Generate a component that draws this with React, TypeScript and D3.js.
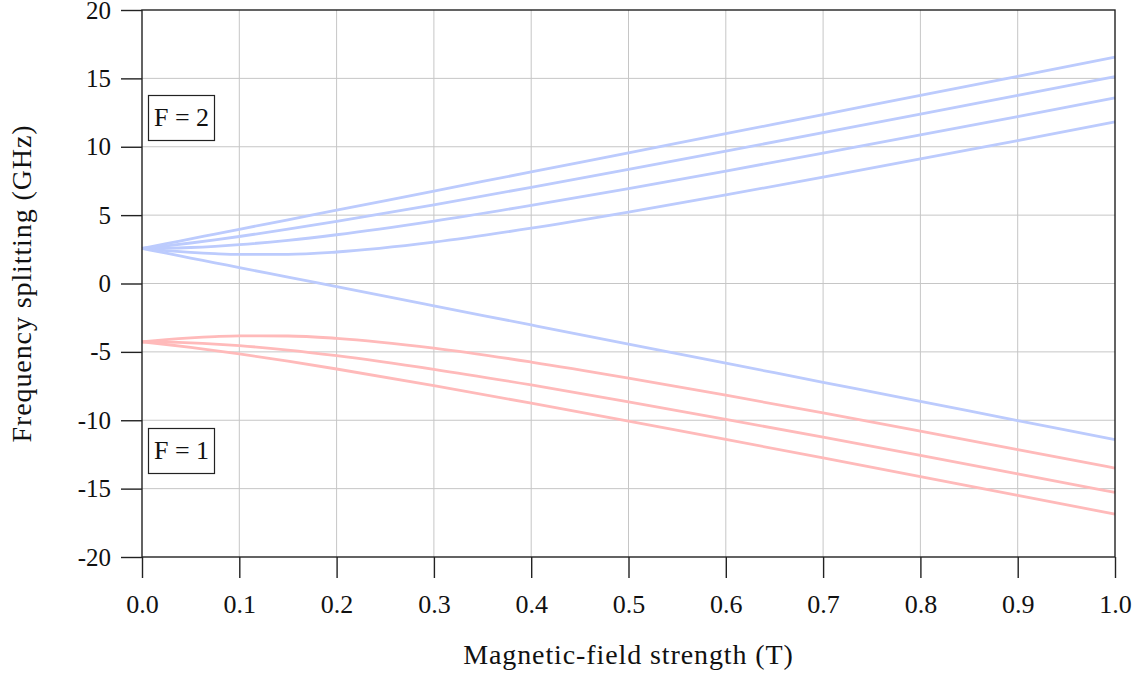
import React, { useRef, useEffect } from "react";
import * as d3 from "d3";

const fieldT = [0, 0.025, 0.05, 0.075, 0.1, 0.15, 0.2, 0.3, 0.4, 0.5, 0.6, 0.7, 0.8, 0.9, 1.0];

// F = 2 levels (GHz)
const f2Top = [2.563, 2.913, 3.262, 3.612, 3.962, 4.661, 5.36, 6.759, 8.157, 9.556, 10.954, 12.353, 13.751, 15.15, 16.548];
const f2Second = [2.563, 2.751, 2.961, 3.191, 3.437, 3.968, 4.538, 5.753, 7.03, 8.342, 9.677, 11.027, 12.388, 13.756, 15.129];
const f2Third = [2.563, 2.581, 2.634, 2.721, 2.839, 3.158, 3.565, 4.563, 5.71, 6.941, 8.221, 9.533, 10.865, 12.212, 13.569];
const f2Fourth = [2.563, 2.402, 2.273, 2.178, 2.123, 2.133, 2.304, 3.021, 4.044, 5.221, 6.477, 7.779, 9.108, 10.455, 11.814];
const f2Down = [2.563, 2.213, 1.864, 1.514, 1.165, 0.465, -0.234, -1.632, -3.031, -4.429, -5.827, -7.226, -8.624, -10.023, -11.421];

// F = 1 levels (GHz)
const f1Upper = [-4.272, -4.11, -3.98, -3.885, -3.828, -3.838, -4.007, -4.721, -5.742, -6.915, -8.169, -9.468, -10.795, -12.139, -13.495];
const f1Middle = [-4.272, -4.29, -4.343, -4.43, -4.548, -4.866, -5.274, -6.272, -7.419, -8.649, -9.93, -11.241, -12.574, -13.92, -15.277];
const f1Lower = [-4.272, -4.46, -4.671, -4.902, -5.149, -5.681, -6.252, -7.47, -8.75, -10.065, -11.403, -12.756, -14.119, -15.489, -16.865];

const xTicks = [0, 0.1, 0.2, 0.3, 0.4, 0.5, 0.6, 0.7, 0.8, 0.9, 1.0];
const yTicks = [-20, -15, -10, -5, 0, 5, 10, 15, 20];

const blue = "#bccbfd";
const pink = "#ffbaba";

const App = () => {
  const svgRef = useRef<SVGSVGElement>(null);

  useEffect(() => {
    const width = 1142;
    const height = 677;
    const margin = { top: 10, right: 27, bottom: 120, left: 142 };
    const w = width - margin.left - margin.right;
    const h = height - margin.top - margin.bottom;
    const font = "'Liberation Serif', 'DejaVu Serif', serif";

    const svg = d3.select(svgRef.current);
    svg.selectAll("*").remove();

    const g = svg.append("g").attr("transform", `translate(${margin.left},${margin.top})`);

    const x = d3.scaleLinear().domain([0, 1]).range([0, w]);
    const y = d3.scaleLinear().domain([-20, 20]).range([h, 0]);

    // grid
    g.append("g")
      .selectAll("line")
      .data(xTicks.slice(1, -1))
      .enter()
      .append("line")
      .attr("x1", (d) => x(d))
      .attr("x2", (d) => x(d))
      .attr("y1", 0)
      .attr("y2", h)
      .attr("stroke", "#c6c6c6")
      .attr("stroke-width", 1);
    g.append("g")
      .selectAll("line")
      .data(yTicks.slice(1, -1))
      .enter()
      .append("line")
      .attr("x1", 0)
      .attr("x2", w)
      .attr("y1", (d) => y(d))
      .attr("y2", (d) => y(d))
      .attr("stroke", "#c6c6c6")
      .attr("stroke-width", 1);

    // curves
    const lineGen = d3
      .line<number>()
      .x((d, i) => x(fieldT[i]))
      .y((d) => y(d))
      .curve(d3.curveMonotoneX);

    const series = [
      { v: f2Top, c: blue },
      { v: f2Second, c: blue },
      { v: f2Third, c: blue },
      { v: f2Fourth, c: blue },
      { v: f2Down, c: blue },
      { v: f1Upper, c: pink },
      { v: f1Middle, c: pink },
      { v: f1Lower, c: pink },
    ];
    g.append("g")
      .selectAll("path")
      .data(series)
      .enter()
      .append("path")
      .attr("d", (d) => lineGen(d.v))
      .attr("fill", "none")
      .attr("stroke", (d) => d.c)
      .attr("stroke-width", 2.8);

    // frame
    g.append("rect")
      .attr("width", w)
      .attr("height", h)
      .attr("fill", "none")
      .attr("stroke", "#222")
      .attr("stroke-width", 1.4);

    // axes
    const yAxis = g
      .append("g")
      .call(d3.axisLeft(y).tickValues(yTicks).tickSize(21).tickPadding(10).tickFormat((d) => String(d)));
    yAxis.select(".domain").remove();
    yAxis.selectAll("line").attr("stroke", "#222").attr("stroke-width", 1.4);
    yAxis.selectAll("text").attr("font-family", font).attr("font-size", 25).attr("fill", "#111");

    const xAxis = g
      .append("g")
      .attr("transform", `translate(0,${h})`)
      .call(d3.axisBottom(x).tickValues(xTicks).tickSize(21).tickPadding(17).tickFormat(d3.format(".1f")));
    xAxis.select(".domain").remove();
    xAxis.selectAll("line").attr("stroke", "#222").attr("stroke-width", 1.4);
    xAxis.selectAll("text").attr("font-family", font).attr("font-size", 26).attr("fill", "#111");

    // titles
    svg
      .append("text")
      .attr("x", margin.left + w / 2)
      .attr("y", 664)
      .attr("text-anchor", "middle")
      .attr("font-family", font)
      .attr("font-size", 28)
      .attr("letter-spacing", 0.9)
      .attr("fill", "#111")
      .text("Magnetic-field strength (T)");

    svg
      .append("text")
      .attr("transform", `translate(31,${margin.top + h / 2}) rotate(-90)`)
      .attr("text-anchor", "middle")
      .attr("font-family", font)
      .attr("font-size", 28)
      .attr("letter-spacing", 0.9)
      .attr("fill", "#111")
      .text("Frequency splitting (GHz)");

    // F labels
    const labels = [
      { t: "F = 2", top: 95 },
      { t: "F = 1", top: 428 },
    ];
    labels.forEach((l) => {
      svg
        .append("rect")
        .attr("x", 148.5)
        .attr("y", l.top + 0.5)
        .attr("width", 66)
        .attr("height", 45)
        .attr("fill", "white")
        .attr("stroke", "#222")
        .attr("stroke-width", 1.2);
      svg
        .append("text")
        .attr("x", 181.5)
        .attr("y", l.top + 31)
        .attr("text-anchor", "middle")
        .attr("font-family", font)
        .attr("font-size", 26)
        .attr("fill", "#111")
        .text(l.t);
    });
  }, []);

  return (
    <svg
      ref={svgRef}
      width={1142}
      height={677}
      style={{ position: "absolute", left: 0, top: 0, background: "white" }}
    />
  );
};

export default App;
